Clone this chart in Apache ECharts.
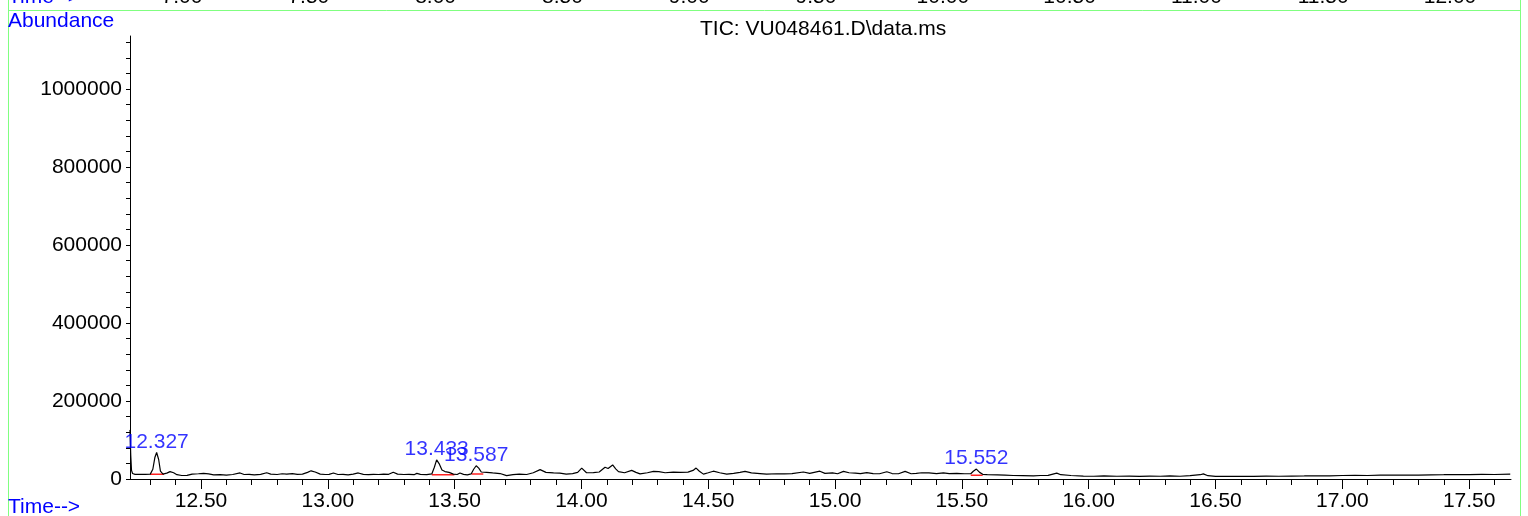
<!DOCTYPE html>
<html><head><meta charset="utf-8">
<script src="https://cdn.jsdelivr.net/npm/echarts@6/dist/echarts.min.js"></script>
<style>html,body{margin:0;padding:0;background:#fff}#c{width:1528px;height:516px}</style>
</head><body><div id="c"></div>
<script>
// Retention time (min) and abundance
const times = [12.220,12.223,12.226,12.230,12.240,12.260,12.280,12.300,12.310,12.318,12.325,12.333,12.340,12.350,12.365,12.378,12.392,12.405,12.424,12.445,12.465,12.490,12.510,12.530,12.550,12.575,12.600,12.625,12.654,12.670,12.690,12.710,12.735,12.759,12.775,12.800,12.820,12.838,12.860,12.880,12.900,12.920,12.934,12.950,12.970,12.990,13.005,13.022,13.040,13.060,13.080,13.100,13.120,13.140,13.160,13.180,13.200,13.220,13.240,13.258,13.275,13.300,13.320,13.340,13.351,13.365,13.390,13.410,13.420,13.429,13.440,13.450,13.462,13.478,13.495,13.510,13.521,13.535,13.550,13.565,13.575,13.585,13.595,13.605,13.626,13.650,13.679,13.705,13.730,13.755,13.784,13.810,13.837,13.860,13.890,13.915,13.940,13.965,13.985,14.001,14.020,14.047,14.070,14.093,14.105,14.123,14.135,14.146,14.170,14.198,14.215,14.231,14.260,14.284,14.305,14.330,14.362,14.390,14.420,14.440,14.452,14.465,14.481,14.500,14.520,14.545,14.573,14.600,14.625,14.645,14.670,14.704,14.730,14.770,14.800,14.830,14.875,14.900,14.940,14.960,14.990,15.010,15.033,15.055,15.080,15.100,15.125,15.150,15.175,15.204,15.225,15.250,15.276,15.300,15.320,15.342,15.370,15.400,15.427,15.450,15.480,15.510,15.535,15.545,15.557,15.570,15.582,15.600,15.640,15.670,15.703,15.740,15.782,15.810,15.840,15.874,15.890,15.930,15.979,16.020,16.060,16.111,16.160,16.200,16.240,16.282,16.320,16.360,16.400,16.440,16.452,16.470,16.500,16.550,16.600,16.650,16.700,16.750,16.800,16.850,16.900,16.950,17.000,17.050,17.100,17.150,17.200,17.250,17.300,17.350,17.400,17.450,17.500,17.550,17.600,17.662];
const abundance = [126000,60000,22000,14000,12000,11800,12000,12500,25000,55000,68000,50000,20000,12500,15000,19000,16000,11000,9000,9500,12500,13500,14500,13000,10500,11000,10000,11500,15500,11500,12000,10500,12000,16000,12500,11500,13500,12500,14000,12000,12500,17000,21000,18000,12500,11500,12000,15500,11500,12000,10500,12500,15500,12000,11000,12000,11500,12500,12000,17500,12500,11500,12000,11000,14500,12000,11000,13000,30000,49000,38000,23000,19000,17000,12500,11500,15500,12000,10500,13000,25000,34000,28000,18000,17000,15500,14000,8500,11000,12500,11500,16000,24000,17000,15500,15000,12500,14000,17000,28000,16000,16500,18000,30000,27000,36000,26000,19000,16000,22000,17000,13000,16000,19500,19000,16000,17500,17000,17500,22000,28000,20000,12500,16000,20000,16000,12500,14500,17000,19500,15500,14000,12500,13500,13000,14000,18000,14500,20000,14500,15500,13500,19500,16000,15000,14000,16500,14000,13500,18500,14000,13500,19500,13500,14500,16000,15500,14000,15500,14000,14500,13500,13500,20000,25500,17000,12000,11000,10500,10000,9000,8500,8000,9000,9500,15000,11000,9000,7500,7000,8000,7000,7500,6500,7500,7000,8000,7000,8500,11000,13000,8500,6800,6500,7000,6800,7200,7000,7500,7800,8300,8000,9000,9500,9000,10000,9800,10200,10000,10800,11000,11500,11200,11800,11500,12500];

// Integrated peaks: label, apex time, apex abundance, baseline start/end and level
const peakLabels = ['12.327','13.433','13.587','15.552'];
const peakTimes = [12.325,13.429,13.585,15.557];
const peakHeights = [68000,49000,34000,25500];
const baseStart = [12.299,13.410,13.567,15.535];
const baseEnd = [12.354,13.499,13.613,15.582];
const baseLevel = [12500,11000,13000,9500];

// Axis tick values and labels
const xMajorTicks = [12.5,13.0,13.5,14.0,14.5,15.0,15.5,16.0,16.5,17.0,17.5];
const xMinorTicks = [12.3,12.4,12.6,12.7,12.8,12.9,13.1,13.2,13.3,13.4,13.6,13.7,13.8,13.9,14.1,14.2,14.3,14.4,14.6,14.7,14.8,14.9,15.1,15.2,15.3,15.4,15.6,15.7,15.8,15.9,16.1,16.2,16.3,16.4,16.6,16.7,16.8,16.9,17.1,17.2,17.3,17.4,17.6];
const yLabelValues = [0,200000,400000,600000,800000,1000000];
const yTickValues = [0,40000,80000,120000,160000,200000,240000,280000,320000,360000,400000,440000,480000,520000,560000,600000,640000,680000,720000,760000,800000,840000,880000,920000,960000,1000000,1040000,1080000,1120000];
const topPanelLabels = ['7.00','7.50','8.00','8.50','9.00','9.50','10.00','10.50','11.00','11.50','12.00'];

const FONT = '"Liberation Sans", Arial, sans-serif';
const BLUE = '#0000ff';
const GREEN = '#80ff80';

const traceData = times.map((t, i) => [t, abundance[i]]);
const baseSeries = baseStart.map((s, i) => ({
  type: 'line', xAxisIndex: 0, yAxisIndex: 0, silent: true, symbol: 'none', z: 2,
  lineStyle: {color: '#ff2020', width: 1.5},
  data: [[s, baseLevel[i]], [baseEnd[i], baseLevel[i]]]
}));

const graphics = [
  {type: 'line', shape: {x1: 8, y1: 10.5, x2: 1521, y2: 10.5}, style: {stroke: GREEN, lineWidth: 1}},
  {type: 'line', shape: {x1: 8.5, y1: 0, x2: 8.5, y2: 516}, style: {stroke: GREEN, lineWidth: 1}},
  {type: 'line', shape: {x1: 1520.5, y1: 0, x2: 1520.5, y2: 516}, style: {stroke: GREEN, lineWidth: 1}},
  {type: 'text', left: 8, top: 11, style: {text: 'Abundance', font: '21px ' + FONT, fill: BLUE}},
  {type: 'text', x: 8, y: 507, style: {text: 'Time-->', font: '21px ' + FONT, fill: BLUE, verticalAlign: 'middle'}},
  {type: 'text', x: 8, y: -3, style: {text: 'Time-->', font: '21px ' + FONT, fill: BLUE, verticalAlign: 'middle'}}
];
topPanelLabels.forEach((lab, i) => {
  graphics.push({type: 'text', x: 182 + i * 126.8, y: -3,
    style: {text: lab, font: '21px ' + FONT, fill: '#000', align: 'center', verticalAlign: 'middle'}});
});

const chart = echarts.init(document.getElementById('c'), null, {renderer: 'canvas'});
chart.setOption({
  animation: false,
  backgroundColor: '#fff',
  title: {text: 'TIC: VU048461.D\\data.ms', left: 695, top: 14,
    textStyle: {fontFamily: FONT, fontSize: 21, fontWeight: 'normal', color: '#000'}},
  grid: {left: 130, right: 17, top: 36, bottom: 37, containLabel: false},
  xAxis: [
    {type: 'value', min: 12.22, max: 17.665, position: 'bottom',
      axisLine: {show: true, lineStyle: {color: '#000', width: 1}},
      axisTick: {show: true, length: 10, customValues: xMajorTicks, lineStyle: {color: '#000'}},
      axisLabel: {show: true, customValues: xMajorTicks, margin: 12, color: '#000', fontFamily: FONT, fontSize: 21,
        formatter: v => v.toFixed(2)},
      splitLine: {show: false}},
    {type: 'value', min: 12.22, max: 17.665, position: 'bottom',
      axisLine: {show: false},
      axisTick: {show: true, length: 6, customValues: xMinorTicks, lineStyle: {color: '#000'}},
      axisLabel: {show: false}, splitLine: {show: false}}
  ],
  yAxis: {type: 'value', min: 0, max: 1136000, position: 'left',
    axisLine: {show: true, lineStyle: {color: '#000', width: 1}},
    axisTick: {show: true, length: 4, customValues: yTickValues, lineStyle: {color: '#000'}},
    axisLabel: {show: true, customValues: yLabelValues, margin: 8, color: '#000', fontFamily: FONT, fontSize: 21,
      formatter: v => String(v)},
    splitLine: {show: false}},
  graphic: graphics,
  series: baseSeries.concat([
    {type: 'line', xAxisIndex: 0, yAxisIndex: 0, symbol: 'none', z: 3, silent: true,
      lineStyle: {color: '#000', width: 1.2}, data: traceData},
    {type: 'scatter', xAxisIndex: 0, yAxisIndex: 0, symbolSize: 0, z: 4, silent: true,
      data: peakTimes.map((t, i) => ({value: [t, peakHeights[i]], name: peakLabels[i]})),
      label: {show: true, position: 'top', distance: 0, formatter: p => p.name,
        color: BLUE, fontFamily: FONT, fontSize: 21}}
  ])
});
</script></body></html>
